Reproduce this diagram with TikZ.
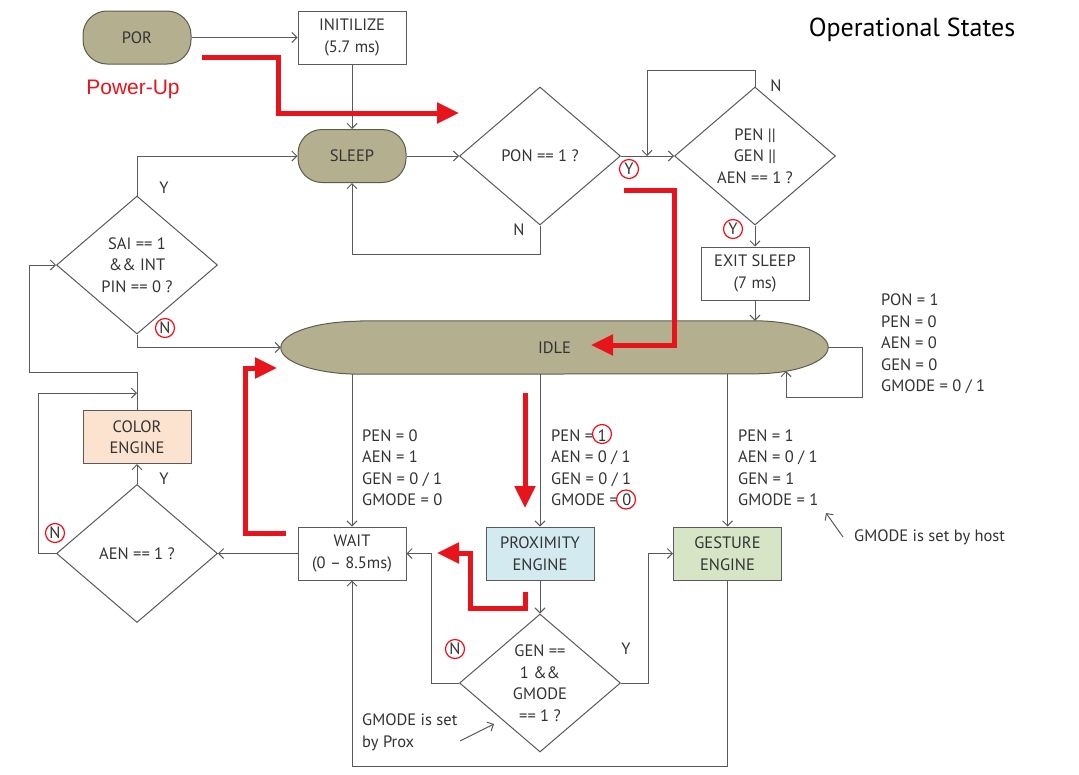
\documentclass[tikz,border=0pt]{standalone}
\usepackage{fontspec}
\setmainfont{PT Sans}
\newfontfamily\pufont{Liberation Sans}
\usetikzlibrary{shapes.geometric,arrows.meta,calc}
\definecolor{olivefill}{HTML}{B4B08F}
\definecolor{olivedraw}{HTML}{5E5C4C}
\definecolor{linegray}{HTML}{5A5A5A}
\definecolor{txt}{HTML}{333333}
\definecolor{peach}{HTML}{FCE3CF}
\definecolor{lblue}{HTML}{D3EAF0}
\definecolor{lgreen}{HTML}{D6E5C6}
\definecolor{hred}{HTML}{E8141B}
\pgfdeclarelayer{bg}
\pgfsetlayers{bg,main}
\begin{document}
\begin{tikzpicture}[x=1pt,y=-1pt,
  every node/.style={text=txt, font=\fontsize{16.5}{21.5}\selectfont},
  box/.style={draw=linegray, line width=1pt, minimum width=108pt, minimum height=53pt, align=center, inner sep=0pt},
  term/.style={box, fill=olivefill, draw=olivedraw, rounded corners=24pt},
  dec/.style={diamond, draw=linegray, line width=1pt, minimum width=161pt, minimum height=138pt, inner sep=0pt, align=center},
  conn/.style={draw=linegray, line width=1pt, -{Straight Barb[length=5pt,width=10pt]}},
  hl/.style={draw=hred, line width=5pt, line join=miter, -{Triangle[length=22pt,width=20pt]}},
  circ/.style={circle, draw=hred, line width=1.2pt, minimum size=19pt, inner sep=0pt},
  stack/.style={align=left, anchor=west, inner sep=0pt},
  lbl/.style={inner sep=0pt}
]
\begin{pgfonlayer}{bg}
\fill[white] (0,0) rectangle (1079,774);
\end{pgfonlayer}
\useasboundingbox (0,0) rectangle (1079,774);

% ---- nodes ----
\node[term] (por) at (137,37.5) {POR};
\node[box] (init) at (352,37.5) {INITILIZE\\(5.7 ms)};
\node[term] (sleep) at (352,156) {SLEEP};
\node[dec] (pon) at (540,156) {PON == 1 ?};
\node[dec] (pen) at (755,156) {PEN ||\\GEN ||\\AEN == 1 ?};
\node[box] (exit) at (755,273.5) {EXIT SLEEP\\(7 ms)};
\node[dec] (sai) at (137,265) {SAI == 1\\\&\& INT\\PIN == 0 ?};
\node[inner sep=0pt, minimum width=547pt, minimum height=53pt] (idle) at (554.5,347.5) {IDLE};
\node[box, fill=peach] (color) at (137,437) {COLOR\\ENGINE};
\node[dec] (aen) at (137,553.5) {AEN == 1 ?};
\node[box] (wait) at (352,553.5) {WAIT\\(0 -- 8.5ms)};
\node[box, fill=lblue] (prox) at (540,553.5) {PROXIMITY\\ENGINE};
\node[box, fill=lgreen] (gest) at (727.5,553.5) {GESTURE\\ENGINE};
\node[dec] (gen) at (540,683) {GEN ==\\1 \&\&\\GMODE\\== 1 ?};

% IDLE shape
\begin{pgfonlayer}{bg}
\draw[fill=olivefill, draw=olivedraw, line width=1pt]
  ([xshift=80pt]idle.north west) -- ([xshift=-74pt]idle.north east)
  arc[start angle=90, end angle=-90, x radius=74pt, y radius=26.5pt]
  -- ([xshift=80pt]idle.south west)
  arc[start angle=270, end angle=90, x radius=80pt, y radius=26.5pt] -- cycle;
\end{pgfonlayer}

% ---- text ----
\node[font=\fontsize{26}{30}\selectfont, text=black] (title) at (912,30) {Operational States};
\node[text=hred, font=\pufont\fontsize{21}{24}\selectfont] (pu) at (133,89) {Power-Up};

\node[stack] (st1) at (881,344) {PON = 1\\PEN = 0\\AEN = 0\\GEN = 0\\GMODE = 0 / 1};
\node[stack] (st2) at (362,467.5) {PEN = 0\\AEN = 1\\GEN = 0 / 1\\GMODE = 0};
\node[stack] (st3) at (551,467.5) {PEN = 1\\AEN = 0 / 1\\GEN = 0 / 1\\GMODE = 0};
\node[stack] (st4) at (738,467.5) {PEN = 1\\AEN = 0 / 1\\GEN = 1\\GMODE = 1};
\node[stack] (hostnote) at (854,537) {GMODE is set by host};
\node[stack] (proxnote) at (362,732.5) {GMODE is set\\by Prox};

\node[lbl] (nPon) at (519,230) {N};
\node[lbl] (nPen) at (776,86) {N};
\node[lbl] (ySai) at (164,188) {Y};
\node[lbl] (yAen) at (164,479) {Y};
\node[lbl] (yGen) at (626,649) {Y};
\node[circ] (cyPon) at (629,169) {Y};
\node[circ] (cyPen) at (733,229) {Y};
\node[circ] (cnSai) at (165,328) {N};
\node[circ] (cnAen) at (55,533) {N};
\node[circ] (cnGen) at (455,649) {N};
\node[circ] (c1) at (602,434) {};
\node[circ] (c0) at (626,499.5) {};

% ---- coordinates ----
\coordinate (mergeA) at (647,156);
\coordinate (loopEnd) at (786,371);
\coordinate (colorJoin) at (137,393);
\coordinate (hostTip) at (826,513);
\coordinate (proxFrom) at (460,741);
\coordinate (proxTip) at (494,724);

% ---- connectors ----
\draw[conn] (por.east) -- (init.west);
\draw[conn] (init.south) -- (sleep.north);
\draw[conn] (sleep.east) -- (pon.west);
\draw[conn] (pon.south) -- ++(0,29) -| (sleep.south);
\draw[conn] (pon.east) -- (pen.west);
\draw[conn] (pen.north) -- ++(0,-16) -| (mergeA);
\draw[conn] (pen.south) -- (exit.north);
\draw[conn] (exit.south) -- (exit.south |- idle.north);
\draw[conn] (idle.east) -- ++(34,0) -- ++(0,50) -| (loopEnd);
\draw[conn] (sai.north) |- (sleep.west);
\draw[conn] (sai.south) |- (idle.west);
\draw[conn] (color.north) -- ++(0,-38) -| ([xshift=-27pt]sai.west) -- (sai.west);
\draw[conn] (aen.north) -- (color.south);
\draw[conn] (aen.west) -- ++(-18,0) |- (colorJoin);
\draw[conn] (wait.west) -- (aen.east);
\draw[conn] (wait.north |- idle.south) -- (wait.north);
\draw[conn] (prox.north |- idle.south) -- (prox.north);
\draw[conn] (gest.north |- idle.south) -- (gest.north);
\draw[conn] (prox.south) -- (gen.north);
\draw[conn] (gen.west) -- ++(-28,0) |- (wait.east);
\draw[conn] (gen.east) -- ++(27,0) |- (gest.west);
\draw[conn] (gest.south) -- ++(0,186) -| (wait.south);
\draw[conn] ([xshift=-11pt]hostnote.west) -- (hostTip);
\draw[conn] (proxFrom) -- (proxTip);

% ---- red highlight arrows ----
\draw[hl] (202,57) -- (278,57) -- (278,113) -- (459,113);
\draw[hl] (624,190) -- (674,190) -- (674,345) -- (591,345);
\draw[hl] (286,533) -- (245,533) -- (245,368) -- (277,368);
\draw[hl] (525,393) -- (525,508);
\draw[hl] (525,592) -- (525,608) -- (470,608) -- (470,553) -- (437,553);
\end{tikzpicture}
\end{document}
